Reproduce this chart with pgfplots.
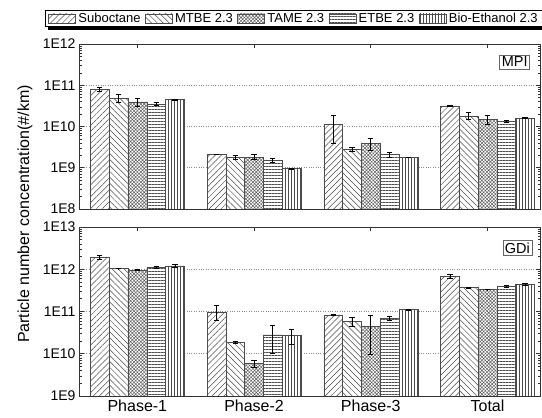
\documentclass[border=0pt]{standalone}
\usepackage{pgfplots}
\pgfplotsset{compat=1.18}
\usepackage{fontspec}
\setmainfont{Liberation Sans}
\usetikzlibrary{patterns,patterns.meta,calc}

\pgfplotsset{
  every axis/.append style={
    scale only axis, width=461bp, anchor=south west,
    ymode=log, log origin=infty,
    xmin=-0.5, xmax=3.45,
    xtick={0,1,2,3},
    xtick pos=both, xtick align=inside,
    ytick pos=both, ytick align=inside,
    major tick length=4.5bp, minor tick length=2.5bp,
    ymajorgrids, major grid style={dotted, black!45, line width=0.6bp},
    axis line style={black!80, line width=0.8bp},
    tick style={black!80, line width=0.6bp},
    tick label style={font=\fontsize{14bp}{16bp}\selectfont},
  },
  bbase/.style={ybar, bar width=0.161, bar shift=0pt, draw=black!70, line width=0.5bp, fill=white,
    legend image code/.code={\draw[##1, line width=0.5bp] (0bp,-4.5bp) rectangle (27bp,4.5bp);},
    error bars/.cd, y dir=both, y explicit,
    error bar style={line width=0.8bp, black},
    error mark options={rotate=90, mark size=2.6bp, line width=0.8bp, black}},
  sSub/.style={bbase, /tikz/postaction={pattern={Lines[angle=45,distance=4.2bp,line width=0.5bp]}, pattern color=black!70}},
  sMTBE/.style={bbase, /tikz/postaction={pattern={Lines[angle=-45,distance=4.2bp,line width=0.5bp]}, pattern color=black!70}},
  sTAME/.style={bbase, /tikz/postaction={pattern={Hatch[angle=45,distance=2.4bp,line width=0.45bp]}, pattern color=black!65}},
  sETBE/.style={bbase, /tikz/postaction={pattern={Lines[angle=0,distance=3bp,line width=0.5bp]}, pattern color=black!70}},
  sBio/.style={bbase, /tikz/postaction={pattern={Lines[angle=90,distance=3bp,line width=0.5bp]}, pattern color=black!70}},
}

\begin{document}
\begin{tikzpicture}
\useasboundingbox (0,0) rectangle (542bp,418bp);

% ---------- MPI ----------
\begin{axis}[at={(79bp,209bp)}, height=165bp,
  ymin=1e8, ymax=1e12,
  ytick={1e8,1e9,1e10,1e11,1e12},
  yticklabels={1E8,1E9,1E10,1E11,1E12},
  minor ytick={2e8,3e8,4e8,5e8,6e8,7e8,8e8,9e8,2e9,3e9,4e9,5e9,6e9,7e9,8e9,9e9,2e10,3e10,4e10,5e10,6e10,7e10,8e10,9e10,2e11,3e11,4e11,5e11,6e11,7e11,8e11,9e11},
  xticklabels={},
  legend style={name=leg, at={(axis description cs:0.466,1.155)}, anchor=center,
    legend columns=5, draw=black, line width=0.8bp, fill=white,
    font=\fontsize{13bp}{15bp}\selectfont,
    inner xsep=3bp, inner ysep=1.5bp,
    nodes={inner sep=1.5bp},
    /tikz/every odd column/.append style={column sep=1bp},
    /tikz/every even column/.append style={column sep=3bp}},
]
\addplot[sSub] coordinates {(-0.322,8.1e10) +- (0,1.0e10) (0.678,2.1e9) +- (0,0.05e9) (1.678,1.13e10) +- (0,0.75e10) (2.678,3.15e10) +- (0,1.5e9)};
\addplot[sMTBE] coordinates {(-0.161,4.8e10) +- (0,1.05e10) (0.839,1.75e9) +- (0,0.2e9) (1.839,2.8e9) +- (0,0.3e9) (2.839,1.8e10) +- (0,3.5e9)};
\addplot[sTAME] coordinates {(0,3.95e10) +- (0,8e9) (1,1.8e9) +- (0,0.25e9) (2,3.9e9) +- (0,1.3e9) (3,1.5e10) +- (0,3.5e9)};
\addplot[sETBE] coordinates {(0.161,3.5e10) +- (0,3e9) (1.161,1.5e9) +- (0,0.15e9) (2.161,2.1e9) +- (0,0.3e9) (3.161,1.32e10) +- (0,0.8e9)};
\addplot[sBio] coordinates {(0.322,4.5e10) +- (0,1e9) (1.322,0.95e9) +- (0,0.03e9) (2.322,1.78e9) +- (0,0.03e9) (3.322,1.62e10) +- (0,0.3e9)};
\legend{Suboctane,MTBE 2.3,TAME 2.3,ETBE 2.3,Bio-Ethanol 2.3}
\node[draw=black!60, fill=white, line width=0.6bp, inner sep=2bp, font=\fontsize{14.5bp}{16bp}\selectfont] at (axis description cs:0.945,0.891) {MPI};
\end{axis}

% legend drop shadow (decoration)
\fill[black] ($(leg.south west)+(3bp,0.4bp)$) rectangle ($(leg.south east)+(2.8bp,-2.8bp)$);
\fill[black] ($(leg.north east)+(-0.4bp,-3bp)$) rectangle ($(leg.south east)+(2.8bp,-2.8bp)$);

% ---------- GDi ----------
\begin{axis}[at={(79bp,22bp)}, height=169bp,
  ymin=1e9, ymax=1e13,
  ytick={1e9,1e10,1e11,1e12,1e13},
  yticklabels={1E9,1E10,1E11,1E12,1E13},
  minor ytick={2e9,3e9,4e9,5e9,6e9,7e9,8e9,9e9,2e10,3e10,4e10,5e10,6e10,7e10,8e10,9e10,2e11,3e11,4e11,5e11,6e11,7e11,8e11,9e11,2e12,3e12,4e12,5e12,6e12,7e12,8e12,9e12},
  xticklabels={Phase-1,Phase-2,Phase-3,Total},
  xticklabel style={font=\fontsize{16bp}{18bp}\selectfont},
]
\addplot[sSub] coordinates {(-0.322,1.9e12) +- (0,1.7e11) (0.678,9.8e10) +- (0,3.8e10) (1.678,8.2e10) +- (0,2e9) (2.678,6.7e11) +- (0,7e10)};
\addplot[sMTBE] coordinates {(-0.161,1.04e12) +- (0,2e10) (0.839,1.85e10) +- (0,0.8e9) (1.839,5.9e10) +- (0,1.5e10) (2.839,3.66e11) +- (0,5e9)};
\addplot[sTAME] coordinates {(0,0.95e12) +- (0,2e10) (1,5.9e9) +- (0,1.1e9) (2,4.45e10) +- (0,3.5e10) (3,3.3e11) +- (0,5e9)};
\addplot[sETBE] coordinates {(0.161,1.1e12) +- (0,8e10) (1.161,2.8e10) +- (0,1.8e10) (2.161,6.8e10) +- (0,8e9) (3.161,3.9e11) +- (0,2e10)};
\addplot[sBio] coordinates {(0.322,1.2e12) +- (0,8e10) (1.322,2.7e10) +- (0,1e10) (2.322,1.1e11) +- (0,2e9) (3.322,4.4e11) +- (0,2.5e10)};
\node[draw=black!60, fill=white, line width=0.6bp, inner sep=2bp, font=\fontsize{14.5bp}{16bp}\selectfont] at (axis description cs:0.951,0.876) {GDi};
\end{axis}

\node[rotate=90, font=\fontsize{16bp}{18bp}\selectfont] at (25bp,204bp) {Particle number concentration(\#/km)};
\end{tikzpicture}
\end{document}
